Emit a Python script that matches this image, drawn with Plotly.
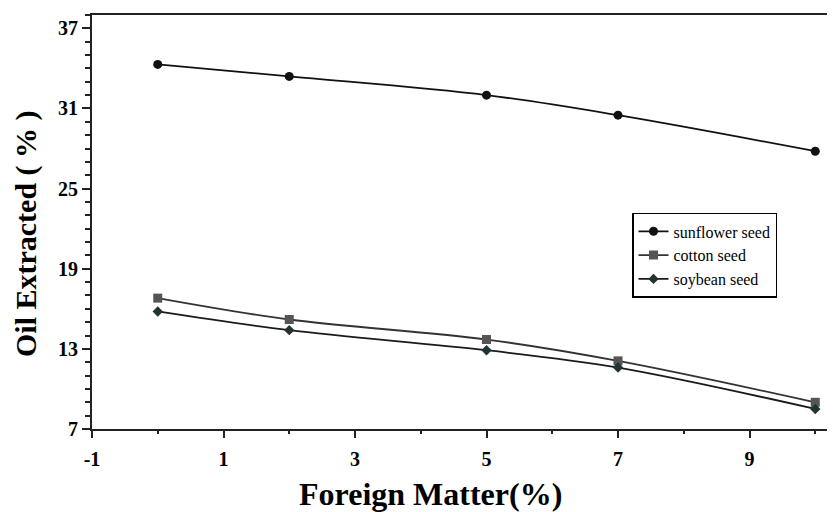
import plotly.graph_objects as go

x_vals = [0, 2, 5, 7, 10]
sunflower = [34.3, 33.4, 32.0, 30.5, 27.8]
cotton = [16.8, 15.2, 13.7, 12.1, 9.0]
soybean = [15.8, 14.4, 12.9, 11.6, 8.5]

x_ticks = [-1, 1, 3, 5, 7, 9]
y_ticks = [7, 13, 19, 25, 31, 37]

serif = "Liberation Serif, Times New Roman, serif"

fig = go.Figure()
fig.add_trace(go.Scatter(x=x_vals, y=sunflower, name="sunflower seed", mode="lines+markers",
                         line=dict(color="#111111", width=1.8, shape="spline"),
                         marker=dict(symbol="circle", size=9, color="#111111")))
fig.add_trace(go.Scatter(x=x_vals, y=cotton, name="cotton seed", mode="lines+markers",
                         line=dict(color="#333333", width=1.8, shape="spline"),
                         marker=dict(symbol="square", size=9, color="#555555")))
fig.add_trace(go.Scatter(x=x_vals, y=soybean, name="soybean seed", mode="lines+markers",
                         line=dict(color="#1a1a1a", width=1.8, shape="spline"),
                         marker=dict(symbol="diamond", size=8, color="#223333")))

# page body has an 8px default margin; figure sized to fit the 835x512 window
fig.update_layout(
    width=827, height=504,
    margin=dict(l=84, r=0, t=7, b=83, autoexpand=False),
    paper_bgcolor="white", plot_bgcolor="white",
    font=dict(family=serif, color="black"),
    showlegend=True,
    legend=dict(x=0.7268, y=0.522, xanchor="left", yanchor="top",
                bordercolor="black", borderwidth=1.5, bgcolor="white",
                font=dict(family=serif, size=16, color="black"),
                tracegroupgap=0, itemwidth=30),
    annotations=[
        dict(text="Foreign Matter(%)", xref="paper", yref="paper", x=0.456, y=-0.157,
             xanchor="center", yanchor="middle", showarrow=False,
             font=dict(family=serif, size=32, color="black", weight="bold")),
        dict(text="Oil Extracted ( % )", xref="paper", yref="paper", x=-0.0888, y=0.471,
             xanchor="center", yanchor="middle", showarrow=False, textangle=-90,
             font=dict(family=serif, size=30, color="black", weight="bold")),
    ],
)
fig.update_xaxes(
    range=[-1, 10.3], tickvals=x_ticks, ticktext=[str(v) for v in x_ticks],
    showgrid=False, zeroline=False, showline=True, linecolor="#222222", linewidth=2,
    mirror=True, ticks="outside", ticklen=7, tickwidth=2, tickcolor="#222222",
    minor=dict(tickvals=[0, 2, 4, 6, 8, 10], ticks="outside", ticklen=3, tickwidth=2, tickcolor="#222222"),
    tickfont=dict(family=serif, size=20, color="black", weight="bold"),
    ticklabelstandoff=4,
    automargin=False,
)
fig.update_yaxes(
    range=[7, 38], tickvals=y_ticks, ticktext=[str(v) for v in y_ticks],
    showgrid=False, zeroline=False, showline=True, linecolor="#222222", linewidth=2,
    ticks="outside", ticklen=8, tickwidth=1.5, tickcolor="#222222",
    minor=dict(dtick=1, tick0=7, ticks="outside", ticklen=5, tickwidth=1.5, tickcolor="#222222"),
    tickfont=dict(family=serif, size=20, color="black", weight="bold"),
    automargin=False,
)

fig.write_html("out.html")
